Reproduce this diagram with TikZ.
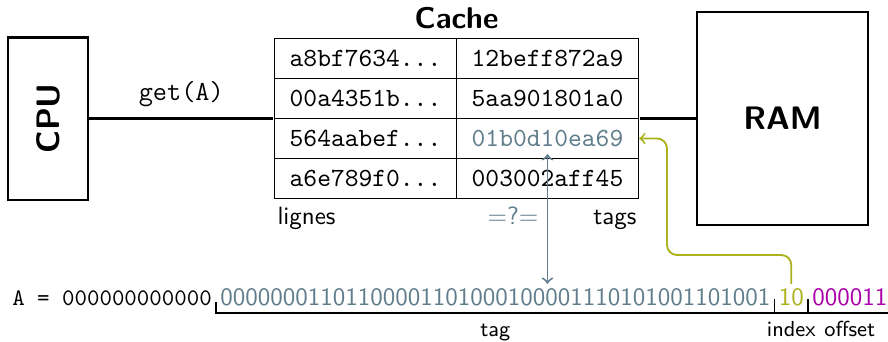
\documentclass[tikz,border=0pt]{standalone}
\usetikzlibrary{matrix, positioning}
\definecolor{tagblue}{RGB}{96,125,139}
\definecolor{idxolive}{RGB}{172,178,30}
\definecolor{offmagenta}{RGB}{170,0,170}

\begin{document}
\begin{tikzpicture}[x=0.4pt, y=-0.4pt,
		box/.style={draw, line width=1pt, font=\sffamily\bfseries\fontsize{13}{15}\selectfont},
		cell/.style={draw, line width=0.5pt, minimum width=72.8pt, minimum height=16pt, inner sep=0pt, font=\ttfamily\fontsize{10.5}{12}\selectfont},
		link/.style={line width=1pt},
		lbl/.style={font=\sffamily, inner sep=0pt},
		field/.style={font=\sffamily\fontsize{8.7}{10}\selectfont, inner sep=0pt, anchor=base},
		bits/.style={font=\sffamily, inner sep=1.5pt, anchor=base west},
		brace/.style={line width=0.45pt},
		cmp/.style={<->, draw=tagblue, line width=0.75pt},
		idxarrow/.style={->, draw=idxolive, line width=0.75pt, rounded corners=4pt}]

			\useasboundingbox (0,0) rectangle (888,341);

			\node[box, minimum width=32pt, minimum height=65pt] (cpu) at (48,118.5) {\rotatebox{90}{CPU}};
			\node[box, minimum width=68.4pt, minimum height=85.2pt] (ram) at (782.5,118.5) {RAM};

			\matrix (cache) [matrix of nodes, nodes={cell}, inner sep=0pt, column sep=-0.5pt, row sep=-0.5pt] at (456.5,118.5) {
				a8bf7634... & 12beff872a9 \\
				00a4351b... & 5aa901801a0 \\
				564aabef... & |[text=tagblue]| 01b0d10ea69 \\
				a6e789f0... & 003002aff45 \\
			};
			\node[font=\sffamily\bfseries\large, above=0pt of cache] (title) {Cache};

			\draw[link] (cpu.east) -- node[above=1pt, font=\ttfamily\fontsize{11}{13}\selectfont] (get) {get(A)} (cache.west);
			\draw[link] (cache.east) -- (ram.west);

			\node[lbl, anchor=base west] (lignes) at (277,224) {lignes};
			\node[lbl, anchor=base east] (tags) at (637,224) {tags};
			\node[lbl, anchor=base, text=tagblue] (eq) at (513,224) {=?=};

			% address bits
			\node[bits, font=\ttfamily\fontsize{9.5}{11}\selectfont] (addr) at (8,305) {A = 000000000000};
			\node[bits, text=tagblue] (tagbits) at (addr.base east) {00000001101100001101000100001110101001101001};
			\node[bits, text=idxolive] (idxbits) at (tagbits.base east) {10};
			\node[bits, text=offmagenta] (offbits) at (idxbits.base east) {000011};

			\draw[brace] ([yshift=1.2pt]tagbits.base west) -- ([yshift=-3.2pt]tagbits.base west) -- ([yshift=-3.2pt]offbits.base east) -- ([yshift=2.4pt]offbits.base east);
			\draw[brace] ([yshift=2.4pt]idxbits.base west) -- ([yshift=-3.2pt]idxbits.base west); % index
			\draw[brace] ([yshift=2.4pt]offbits.base west) -- ([yshift=-3.2pt]offbits.base west); % offset

			\node[field] (taglbl) at ([yshift=-12.4pt]tagbits.base) {tag};
			\node[field] (idxlbl) at ([yshift=-12.4pt]idxbits.base) {index};
			\node[field] (offlbl) at ([yshift=-12.4pt]offbits.base) {offset};

			% comparison and lookup
			\draw[cmp] ([yshift=2pt]cache-3-2.south) -- (cache-3-2.south |- tagbits.north);
			\coordinate (bend) at (667,255);
			\draw[idxarrow] (idxbits.north) |- (bend) |- (cache-3-2.east);
		\end{tikzpicture}
\end{document}
